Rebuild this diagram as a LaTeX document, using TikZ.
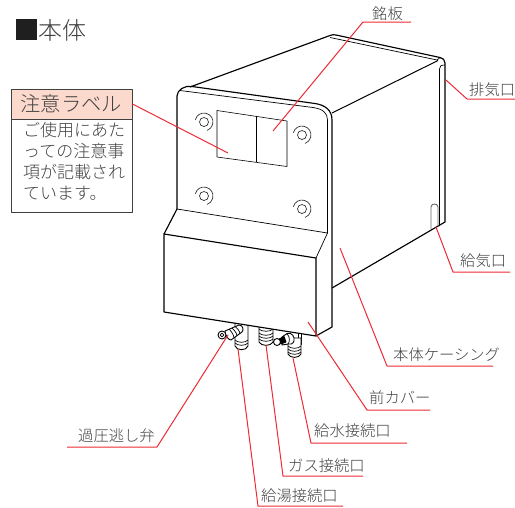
\documentclass[tikz,border=0pt]{standalone}
\usepackage{fontspec}
\setmainfont{Noto Sans CJK JP Light}
\usetikzlibrary{positioning}
\definecolor{leadred}{HTML}{EE2A36}
\definecolor{labelpink}{HTML}{FBD9CC}
\definecolor{inkgray}{HTML}{404040}
\begin{document}
\begin{tikzpicture}[x=1pt,y=-1pt,line join=round]
\tikzstyle{body}=[draw=black,line width=1.15pt]
\tikzstyle{thin}=[draw=black,line width=0.7pt]
\tikzstyle{part}=[draw=black,line width=0.9pt,fill=white]
\tikzstyle{leader}=[draw=leadred,line width=1pt]
\tikzstyle{screw}=[draw=black!85,line width=0.65pt]
\tikzstyle{callout}=[text=inkgray,font=\fontsize{15.3pt}{15pt}\selectfont,inner sep=0pt,anchor=west]
\tikzstyle{notebody}=[text=inkgray,font=\fontsize{17pt}{21pt}\selectfont,inner sep=0pt,anchor=north west,align=left]
\useasboundingbox (0,0) rectangle (515,507);

        % title
        \node[fill=black!88,minimum size=21pt,inner sep=0pt,anchor=north west] (mark) at (16,19) {};
        \node[text=inkgray,font=\fontsize{24pt}{24pt}\selectfont,inner sep=0pt,anchor=west] (title) at (38,30) {本体};

        % note box
        \node[draw=inkgray,line width=0.8pt,fill=labelpink,minimum width=121pt,minimum height=30pt,inner sep=0pt,anchor=north west,text=inkgray,font=\fontsize{20.3pt}{20pt}\selectfont] (notehead) at (10.5,88.5) {注意ラベル};
        \node[draw=inkgray,line width=0.8pt,minimum width=121pt,minimum height=93pt,inner sep=0pt,anchor=north west] (noteframe) at (10.5,118.5) {};
        \node[notebody] (notetext) at (23,122) {ご使用にあた\\っての注意事\\項が記載され\\ています。};

        % fittings below the cover
        \draw[part] (235,322) -- (235,346) .. controls (237,351) and (246,351) .. (248,346) -- (248,322) -- cycle;
        \draw[thin] (235,340) .. controls (237,343) and (246,343) .. (248,340);
        \draw[thin] (235,343) .. controls (237,346) and (246,346) .. (248,343);
        \draw[part] (259,322) -- (259,342) .. controls (261,346.5) and (271,346.5) .. (273,342) -- (273,322) -- cycle;
        \draw[thin] (259,329) .. controls (261,332) and (271,332) .. (273,329);
        \draw[thin] (259,333) .. controls (261,336) and (271,336) .. (273,333);
        \draw[thin] (259,336) .. controls (261,339) and (271,339) .. (273,336);
        \draw[thin] (259,339) .. controls (261,342) and (271,342) .. (273,339);
        \draw[part] (298,326) -- (298,344) -- (301,344) -- (301,326) -- cycle;
        \draw[part] (288,338) -- (288,354) .. controls (290,358.5) and (299,358.5) .. (301,354) -- (301,338) -- cycle;
        \draw[thin] (288,346) .. controls (290,349) and (299,349) .. (301,346);
        \draw[thin] (288,349) .. controls (290,352) and (299,352) .. (301,349);
        \draw[thin] (288,352) .. controls (290,355) and (299,355) .. (301,352);

        % relief valve
        \draw[part] (225,331) -- (239,325) .. controls (243,325) and (244,330) .. (242,332) -- (231,340) .. controls (228,340) and (225,335) .. (225,331) -- cycle;
        \draw[thin] (229,329) .. controls (231,331) and (234,335) .. (234,338);
        \draw[thin] (232,328) .. controls (234,330) and (237,333) .. (237,336);
        \draw[thin] (235,326.5) .. controls (237,328) and (240,331) .. (240,334);
        \draw[part] (222,335) circle[radius=4];
        \draw[thin] (222,335) circle[radius=1.8];

        % water side valve
        \draw[part] (282,337) -- (287,333.5) .. controls (292,332) and (295,337) .. (294,341) .. controls (293,344) and (290,345) .. (288,344) -- (282,345) -- cycle;
        \draw[thin] (287,334) .. controls (290,336) and (290,342) .. (288,344);
        \draw[part,fill=black] (279,339) -- (284,336.5) -- (286,342) -- (281,344) -- cycle;
        \draw[part] (277,342) circle[radius=3.5];

        % casing side and top
        \draw[body] (190,87) -- (330,35.5) .. controls (332,34.5) and (334,34.5) .. (336,35) -- (440,57.5) .. controls (443,58) and (445,60) .. (445,63) -- (445,222) -- (332,288);
        \draw[thin] (330,37.5) -- (437,60) -- (440,57.5);
        \draw[line width=1pt] (332,113) -- (438,60.5);
        \draw[thin] (445,65) .. controls (441,65) and (439.5,66) .. (439.5,69) -- (439.5,226);
        \draw[draw=black!60,line width=0.9pt] (431,229) -- (431,207) .. controls (431,203) and (438,203) .. (438,207) -- (438,226);

        % front panel
        \draw[body] (177,209) -- (177,96) .. controls (177,90) and (185,85) .. (192,86.5) -- (315,103.5) .. controls (325,105) and (332,110) .. (332,120) -- (332,327) -- (316,336);
        \draw[thin] (180,90.5) -- (313,107.5) .. controls (323,109) and (327.5,113) .. (327.5,120) -- (327.5,233);
        \draw[thin] (177,209) -- (327.5,233) -- (316,258);
        \draw[body] (177,209) -- (164,234);

        % name plate
        \draw[draw=black,line width=0.6pt] (217,110.5) -- (287,121) -- (287,166.5) -- (217,157) -- cycle;
        \draw[draw=black,line width=0.6pt] (256,115.5) -- (256,162);

        % screws
        \draw[screw] (204,122) circle[radius=4.5];
        \draw[screw] (204,122) ++(195:9) arc[start angle=195,end angle=430,radius=9];
        \draw[screw] (204,196) circle[radius=4.5];
        \draw[screw] (204,196) ++(195:9) arc[start angle=195,end angle=430,radius=9];
        \draw[screw] (302,135) circle[radius=4.5];
        \draw[screw] (302,135) ++(195:9) arc[start angle=195,end angle=430,radius=9];
        \draw[screw] (302,209) circle[radius=4.5];
        \draw[screw] (302,209) ++(195:9) arc[start angle=195,end angle=430,radius=9];

        % cover
        \draw[body,fill=white] (164,234) -- (316,258) -- (316,336) -- (164,312) -- cycle;

        % labels
        \node[callout] (plate) at (372,14) {銘板};
        \node[callout] (exhaust) at (469,90) {排気口};
        \node[callout] (intake) at (460,261) {給気口};
        \node[callout] (casing) at (393,355) {本体ケーシング};
        \node[callout] (cover) at (369,398) {前カバー};
        \node[callout] (water) at (314,431) {給水接続口};
        \node[callout] (gas) at (288,466) {ガス接続口};
        \node[callout] (hotwater) at (261,496) {給湯接続口};
        \node[callout] (relief) at (78,436) {過圧逃し弁};

        % leader points
        \coordinate (pnote) at (228,153);
        \coordinate (pplate) at (273,131);
        \coordinate (kplate) at (363,22);
        \coordinate (eplate) at (411,22);
        \coordinate (pexhaust) at (446,80);
        \coordinate (kexhaust) at (467,99);
        \coordinate (eexhaust) at (515,99);
        \coordinate (pintake) at (436,227);
        \coordinate (kintake) at (453,272);
        \coordinate (eintake) at (510,272);
        \coordinate (pcasing) at (340,248);
        \coordinate (kcasing) at (387,366);
        \coordinate (ecasing) at (493,366);
        \coordinate (pcover) at (308,322);
        \coordinate (kcover) at (367,410);
        \coordinate (ecover) at (430,410);
        \coordinate (pwater) at (293,358);
        \coordinate (kwater) at (311,443);
        \coordinate (ewater) at (407,443);
        \coordinate (pgas) at (266,345);
        \coordinate (kgas) at (283,476);
        \coordinate (egas) at (363,476);
        \coordinate (phot) at (238,349);
        \coordinate (khot) at (258,506);
        \coordinate (ehot) at (343,506);
        \coordinate (prelief) at (228,335);
        \coordinate (krelief) at (157,447);
        \coordinate (erelief) at (67,447);

        \path[leader]
        (notehead.east) -- (pnote)
        (pplate) -- (kplate) -- (eplate)
        (pexhaust) -- (kexhaust) -- (eexhaust)
        (pintake) -- (kintake) -- (eintake)
        (pcasing) -- (kcasing) -- (ecasing)
        (pcover) -- (kcover) -- (ecover)
        (pwater) -- (kwater) -- (ewater)
        (pgas) -- (kgas) -- (egas)
        (phot) -- (khot) -- (ehot)
        (prelief) -- (krelief) -- (erelief)
        ; %end path

\end{tikzpicture}
\end{document}
